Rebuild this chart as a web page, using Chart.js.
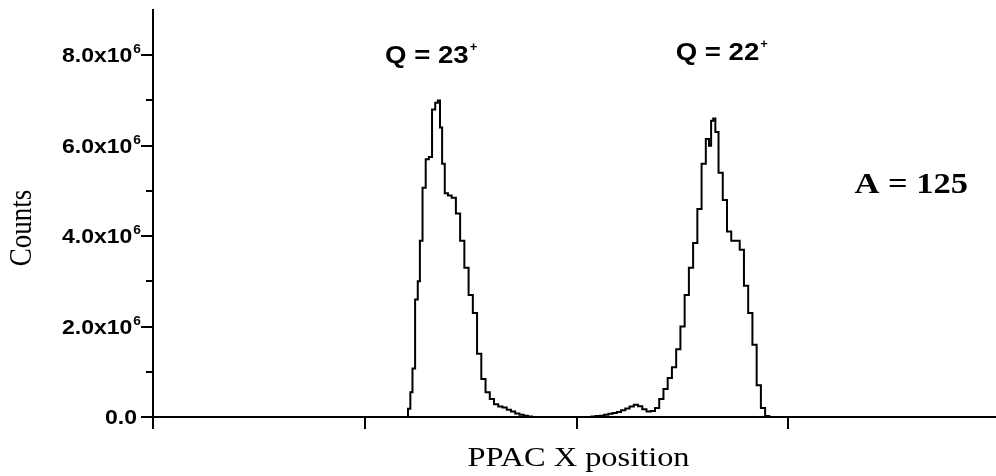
<!DOCTYPE html>
<html>
<head>
<meta charset="utf-8">
<script src="https://cdn.jsdelivr.net/npm/chart.js@4/dist/chart.umd.min.js"></script>
<style>
  html, body { margin: 0; padding: 0; background: #fff; }
  #wrap { width: 996px; height: 476px; position: relative; }
</style>
</head>
<body>
<div id="wrap"><canvas id="chart"></canvas></div>
<script>
// PPAC X position spectrum, A = 125 (counts in units of 10^6)
const channels = [
  116, 119.8, 121, 122, 123, 124.5, 125.5, 126.5, 128, 129.5, 131, 132.5, 134, 135,
  136, 137, 138.5, 140, 142, 144, 146, 148, 150, 152, 154, 156, 158, 160, 162, 164,
  166, 168, 170, 172, 174, 176, 178, 180,
  206, 208, 210, 212, 214, 216, 218, 220, 222, 224, 226, 228, 230, 232, 234, 236,
  238, 240, 242, 244, 246, 248, 250, 252, 254, 256, 258, 260, 262, 263, 264, 265,
  266, 268, 270, 272, 274, 276, 278, 280, 282, 284, 286, 288, 290, 292
];
const countsM = [
  0, 0, 0.18, 0.55, 1.07, 2.6, 3.0, 3.9, 5.07, 5.7, 5.75, 6.8, 6.95, 7.0,
  6.4, 5.6, 4.95, 4.9, 4.85, 4.5, 3.9, 3.3, 2.7, 2.3, 1.4, 0.84, 0.55, 0.4, 0.28, 0.23,
  0.21, 0.16, 0.12, 0.08, 0.05, 0.03, 0.01, 0,
  0, 0.01, 0.02, 0.03, 0.05, 0.07, 0.09, 0.11, 0.15, 0.19, 0.23, 0.27, 0.24, 0.17, 0.12, 0.13,
  0.2, 0.4, 0.62, 0.86, 1.1, 1.5, 2.0, 2.7, 3.3, 3.85, 4.6, 5.6, 6.15, 6.0, 6.55, 6.6,
  6.3, 5.4, 4.8, 4.1, 3.9, 3.9, 3.7, 2.9, 2.3, 1.6, 0.7, 0.2, 0.02, 0
];
const yTickValues = [0, 2e6, 4e6, 6e6, 8e6];
const yMinorValues = [1e6, 3e6, 5e6, 7e6];
const xTickValues = [0, 100, 200, 300];
const xTitle = 'PPAC X position';
const yTitle = 'Counts';

const points = channels.map((c, i) => ({ x: c, y: countsM[i] * 1e6 }));

const SANS = '"Liberation Sans", Arial, sans-serif';
const SERIF = '"Liberation Serif", "Times New Roman", serif';
const STRETCH = 1.2; // the scanned figure is wider than tall

// draw text squeezed/stretched horizontally around an anchor
function wideText(ctx, txt, px, py, font, align, sx) {
  ctx.save();
  ctx.font = font;
  ctx.translate(px, py);
  ctx.scale(sx, 1);
  ctx.textAlign = align;
  ctx.fillText(txt, 0, 0);
  ctx.restore();
  ctx.font = font;
  return ctx.measureText(txt).width * sx;
}

const labelsPlugin = {
  id: 'labels',
  afterDraw(chart) {
    const { ctx, scales: { x, y } } = chart;
    ctx.save();
    ctx.fillStyle = '#000';
    ctx.strokeStyle = '#000';
    ctx.textBaseline = 'alphabetic';

    // minor y ticks
    ctx.lineWidth = 2;
    yMinorValues.forEach(v => {
      const py = Math.round(y.getPixelForValue(v));
      ctx.beginPath();
      ctx.moveTo(x.left - 7, py);
      ctx.lineTo(x.left, py);
      ctx.stroke();
    });

    // y tick labels with superscript exponent
    yTickValues.forEach(v => {
      const py = y.getPixelForValue(v) + 7;
      if (v === 0) {
        wideText(ctx, '0.0', x.left - 16, py, 'bold 20px ' + SANS, 'right', 1.15);
      } else {
        const supW = wideText(ctx, '6', x.left - 12, py - 9, 'bold 12px ' + SANS, 'right', 1.15);
        wideText(ctx, (v / 1e6).toFixed(1) + 'x10', x.left - 13 - supW, py, 'bold 20px ' + SANS, 'right', 1.15);
      }
    });

    // axis titles
    wideText(ctx, xTitle, (x.left + x.right) / 2 + 4, 466, '27px ' + SERIF, 'center', STRETCH);
    ctx.save();
    ctx.translate(31, 228);
    ctx.rotate(-Math.PI / 2);
    ctx.scale(1, STRETCH);
    ctx.font = '27px ' + SERIF;
    ctx.textAlign = 'center';
    ctx.fillText(yTitle, 0, 0);
    ctx.restore();

    // charge state labels
    const drawQ = (txt, cx, cy) => {
      const font = 'bold 23px ' + SANS;
      ctx.font = font;
      const w = ctx.measureText(txt).width * STRETCH;
      const px = x.getPixelForValue(cx) - w / 2;
      const py = y.getPixelForValue(cy);
      wideText(ctx, txt, px, py, font, 'left', STRETCH);
      wideText(ctx, '+', px + w + 1, py - 12, 'bold 13px ' + SANS, 'left', 1);
    };
    drawQ('Q = 23', 129.3, 7.83e6);
    drawQ('Q = 22', 266.5, 7.9e6);

    wideText(ctx, 'A = 125', x.getPixelForValue(358), y.getPixelForValue(4.95e6), 'bold 30px ' + SERIF, 'center', 1.15);
    ctx.restore();
  }
};

new Chart(document.getElementById('chart'), {
  type: 'line',
  data: {
    datasets: [{
      data: points,
      stepped: 'middle',
      borderColor: '#000',
      borderWidth: 2,
      pointRadius: 0,
      fill: false
    }]
  },
  options: {
    responsive: true,
    maintainAspectRatio: false,
    animation: false,
    layout: { padding: { left: 141, right: 0, top: 10, bottom: 47 } },
    plugins: { legend: { display: false }, tooltip: { enabled: false } },
    scales: {
      x: {
        type: 'linear',
        min: 0,
        max: 398,
        afterBuildTicks: s => { s.ticks = xTickValues.map(v => ({ value: v })); },
        ticks: { display: false },
        grid: { drawOnChartArea: false, drawTicks: true, tickLength: 12, color: '#000', lineWidth: 2 },
        border: { display: true, color: '#000', width: 2 },
        title: { display: false, text: xTitle }
      },
      y: {
        min: 0,
        max: 9e6,
        afterBuildTicks: s => { s.ticks = yTickValues.map(v => ({ value: v })); },
        ticks: { display: false },
        grid: { drawOnChartArea: false, drawTicks: true, tickLength: 12, color: '#000', lineWidth: 2 },
        border: { display: true, color: '#000', width: 2 },
        title: { display: false, text: yTitle }
      }
    }
  },
  plugins: [labelsPlugin]
});
</script>
</body>
</html>
